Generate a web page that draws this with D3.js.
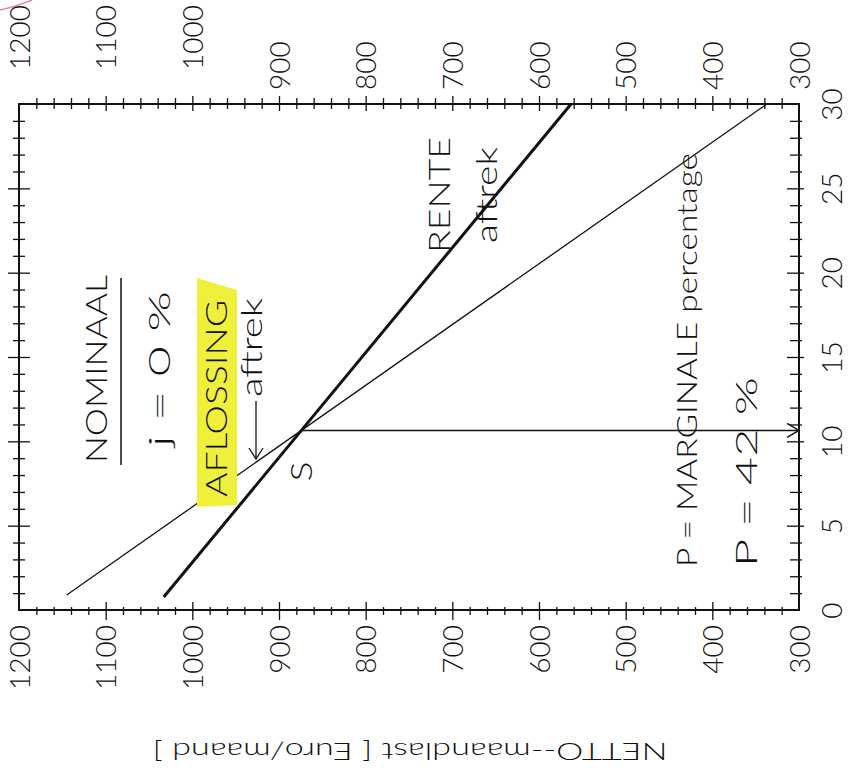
<!DOCTYPE html>
<html>
<head>
<meta charset="utf-8">
<script src="https://cdn.jsdelivr.net/npm/d3@7"></script>
<style>
  html, body { margin: 0; padding: 0; background: #fff; }
  svg { display: block; }
  text { font-family: Lato, "DejaVu Sans", sans-serif; font-weight: 300; fill: #111; }
</style>
</head>
<body>
<svg id="chart" width="849" height="778"></svg>
<script>
// Netto-maandlast (Euro/maand) over the looptijd (jaar), drawn a quarter turn:
// jaren run upwards along the right edge, maandlast runs right-to-left.
const maandlastTicks = [1200, 1100, 1000, 900, 800, 700, 600, 500, 400, 300];
const jaarTicks = [0, 5, 10, 15, 20, 25, 30];

// RENTE-aftrek line (thick) and AFLOSSING-aftrek line (thin): [jaar], [euro/maand]
const renteJaar = [0.77, 30];
const renteLast = [1033, 563];
const aflossingJaar = [0.89, 30];
const aflossingLast = [1145, 337];

const nominaleRente = 0;          // j = 0 %
const marginalePercentage = 42;   // P = 42 %

const svg = d3.select("#chart");
const frame = { left: 19, right: 799, top: 104, bottom: 610 };

const x = d3.scaleLinear().domain([1200, 300]).range([frame.left, frame.right]);
const y = d3.scaleLinear().domain([0, 30]).range([frame.bottom, frame.top]);

// ---------- ticks ----------
const minorLast = d3.range(320, 1200, 20).filter(v => v % 100 !== 0);
const majorLast = maandlastTicks.filter(v => v > 300 && v < 1200);
const minorJaar = d3.range(1, 30).filter(v => v % 5 !== 0);
const majorJaar = jaarTicks.filter(v => v > 0 && v < 30);

function tickAxis(axisGen, values, pos, inside, outside, orient) {
  const g = svg.append("g")
    .attr("transform", pos)
    .call(axisGen.tickValues(values).tickSizeInner(outside).tickSizeOuter(0).tickFormat(""));
  g.select(".domain").remove();
  const l = g.selectAll(".tick line").attr("stroke", "#111").attr("stroke-width", 1.3);
  if (orient === "bottom") l.attr("y1", -inside);
  if (orient === "top") l.attr("y1", inside);
  if (orient === "left") l.attr("x1", inside);
  if (orient === "right") l.attr("x1", -inside);
}

tickAxis(d3.axisBottom(x), minorLast, `translate(0,${frame.bottom})`, 3, 5, "bottom");
tickAxis(d3.axisBottom(x), majorLast, `translate(0,${frame.bottom})`, 8, 10, "bottom");
tickAxis(d3.axisTop(x), minorLast, `translate(0,${frame.top})`, 5, 6, "top");
tickAxis(d3.axisTop(x), majorLast, `translate(0,${frame.top})`, 7, 8, "top");
tickAxis(d3.axisLeft(y), minorJaar, `translate(${frame.left},0)`, 6, 6, "left");
tickAxis(d3.axisLeft(y), majorJaar, `translate(${frame.left},0)`, 11, 11, "left");
tickAxis(d3.axisRight(y), minorJaar, `translate(${frame.right},0)`, 9, 3, "right");
tickAxis(d3.axisRight(y), majorJaar, `translate(${frame.right},0)`, 12, 5, "right");

// frame
svg.append("rect")
  .attr("x", frame.left).attr("y", frame.top)
  .attr("width", frame.right - frame.left).attr("height", frame.bottom - frame.top)
  .attr("fill", "none").attr("stroke", "#111").attr("stroke-width", 2);

// ---------- tick labels ----------
const fmt = d3.format("d");
const labelSize = 28;

// bottom: read upwards, ending just below the frame
const bottomLabels = svg.append("g")
  .attr("transform", `translate(0,${frame.bottom})`)
  .call(d3.axisBottom(x).tickValues(maandlastTicks).tickSize(0).tickFormat(fmt));
bottomLabels.select(".domain").remove();
bottomLabels.selectAll("text")
  .attr("x", 0).attr("y", 0).attr("dy", "0.36em")
  .attr("text-anchor", "end")
  .attr("transform", "translate(0,15) rotate(-90)")
  .style("font-size", labelSize + "px");

// top: read upwards above the frame
const topLabels = svg.append("g")
  .attr("transform", `translate(0,${frame.top})`)
  .call(d3.axisTop(x).tickValues(maandlastTicks).tickSize(0).tickFormat(fmt));
topLabels.select(".domain").remove();
topLabels.selectAll("text")
  .attr("x", 0).attr("y", 0).attr("dy", "0.36em")
  .attr("text-anchor", "start")
  .attr("transform", d => `translate(0,${String(d).length > 3 ? -34 : -14}) rotate(-90)`)
  .style("font-size", labelSize + "px");

// right: jaren
const rightLabels = svg.append("g")
  .attr("transform", `translate(${frame.right},0)`)
  .call(d3.axisRight(y).tickValues(jaarTicks).tickSize(0).tickFormat(fmt));
rightLabels.select(".domain").remove();
rightLabels.selectAll("text")
  .attr("x", 0).attr("y", 0).attr("dy", 0)
  .attr("text-anchor", "middle")
  .attr("transform", "translate(43,0) rotate(-90)")
  .style("font-size", labelSize + "px");

// ---------- lines ----------
const line = d3.line().x(d => x(d[1])).y(d => y(d[0]));

svg.append("path")
  .datum(d3.zip(aflossingJaar, aflossingLast))
  .attr("d", line).attr("fill", "none")
  .attr("stroke", "#111").attr("stroke-width", 1.3);

svg.append("path")
  .datum(d3.zip(renteJaar, renteLast))
  .attr("d", line).attr("fill", "none")
  .attr("stroke", "#111").attr("stroke-width", 3);

// snijpunt S of both lines
function coef(js, ls) {
  const a = (ls[1] - ls[0]) / (js[1] - js[0]);
  return [a, ls[0] - a * js[0]];
}
const [a1, b1] = coef(renteJaar, renteLast);
const [a2, b2] = coef(aflossingJaar, aflossingLast);
const sJaar = (b2 - b1) / (a1 - a2);
const sLast = a1 * sJaar + b1;
const sx = x(sLast), sy = y(sJaar);

// horizontal arrow from S to the jaar axis
svg.append("line")
  .attr("x1", sx).attr("y1", sy).attr("x2", frame.right).attr("y2", sy)
  .attr("stroke", "#111").attr("stroke-width", 1.5);
svg.append("path")
  .attr("d", `M${frame.right - 12},${sy - 7}L${frame.right},${sy}L${frame.right - 12},${sy + 7}`)
  .attr("fill", "none").attr("stroke", "#111").attr("stroke-width", 1.5);

// ---------- annotations ----------
function vtext(str, bx, y0, y1, size) {
  return svg.append("text")
    .attr("transform", `translate(${bx},${y0}) rotate(-90)`)
    .attr("textLength", y0 - y1).attr("lengthAdjust", "spacingAndGlyphs")
    .style("font-size", size + "px")
    .text(str);
}

// highlighter behind AFLOSSING
svg.append("path")
  .attr("d", "M197,278L237,290L237,505L197,507Z")
  .attr("fill", "#eff03c");

vtext("NOMINAAL", 107, 463, 275, 29);
svg.append("line")
  .attr("x1", 121).attr("y1", 278).attr("x2", 121).attr("y2", 465)
  .attr("stroke", "#111").attr("stroke-width", 1.5);
vtext(`j = ${nominaleRente} %`, 170, 447, 291, 29);
vtext("AFLOSSING", 227, 497, 300, 29);
vtext("aftrek", 262, 397, 298, 29);

// arrow from "aftrek" down to the AFLOSSING line
svg.append("line")
  .attr("x1", 256).attr("y1", 401).attr("x2", 256).attr("y2", 459)
  .attr("stroke", "#111").attr("stroke-width", 1.3);
svg.append("path")
  .attr("d", "M249,448L256,459L263,448")
  .attr("fill", "none").attr("stroke", "#111").attr("stroke-width", 1.3);

// label S beside the snijpunt
vtext("S", sx + 11, sy + 51, sy + 31, 30);

vtext("RENTE", 450, 253, 137, 30);
vtext("aftrek", 497, 243, 147, 29);

vtext("P = MARGINALE  percentage", 697, 567, 153, 28);
vtext(`P = ${marginalePercentage} %`, 757, 567, 377, 29);

// axis title, turned upside down beneath the chart
svg.append("text")
  .attr("transform", "translate(410,743) rotate(180)")
  .attr("text-anchor", "middle")
  .attr("textLength", 515).attr("lengthAdjust", "spacingAndGlyphs")
  .style("font-size", "23px")
  .text("NETTO--maandlast  [  Euro/maand  ]");

// small pen stroke in the top-left corner
svg.append("path")
  .attr("d", "M0,10Q14,7 32,0")
  .attr("fill", "none").attr("stroke", "#e38a9b").attr("stroke-width", 1.5);
</script>
</body>
</html>
